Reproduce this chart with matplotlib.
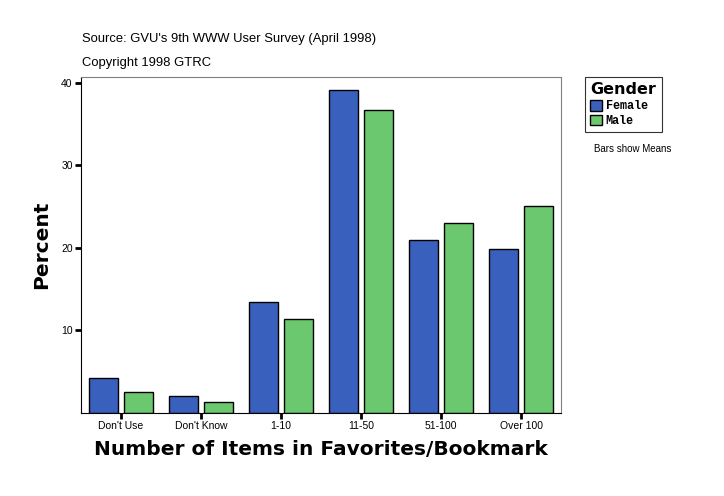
import matplotlib
matplotlib.use("Agg")
import matplotlib.pyplot as plt
import numpy as np
from matplotlib.patches import Patch

categories = ["Don't Use", "Don't Know", "1-10", "11-50", "51-100", "Over 100"]
female = [4.2, 2.0, 13.5, 39.1, 21.0, 19.9]
male = [2.5, 1.3, 11.4, 36.7, 23.0, 25.1]
series_names = ["Female", "Male"]
yticks = [10, 20, 30, 40]

blue = "#3a60be"
green = "#6cc86e"

plt.rcParams['font.family'] = ['Liberation Sans', 'DejaVu Sans']

fig = plt.figure(figsize=(7.24, 4.96), dpi=100)
ax = fig.add_axes([81/724, 1-413/496, 480/724, 336/496])

x = np.arange(len(categories))
w = 0.36
ax.bar(x - 0.215, female, width=w, color=blue, edgecolor="black", linewidth=1.0)
ax.bar(x + 0.215, male, width=w, color=green, edgecolor="black", linewidth=1.0)

ax.set_xlim(-0.5, len(categories) - 0.5)
ax.set_ylim(0, 40.7)
ax.set_yticks(yticks)
ax.set_yticklabels([str(t) for t in yticks], fontsize=7.5)
ax.set_xticks(x)
ax.set_xticklabels(categories, fontsize=7.5)
ax.tick_params(axis='both', direction='out', width=2, length=4, pad=2)

for s in ['top', 'right']:
    ax.spines[s].set_color('#808080')
for s in ['left', 'bottom']:
    ax.spines[s].set_color('black')

ax.set_xlabel("Number of Items in Favorites/Bookmark", fontsize=14.5, fontweight='heavy',
              family=['DejaVu Sans'], labelpad=6)
ax.set_ylabel("Percent", fontsize=14.5, fontweight='heavy', family=['DejaVu Sans'], labelpad=7)

fig.text(82/724, 1-39/496, "Source: GVU's 9th WWW User Survey (April 1998)", fontsize=9.4,
         va='center', ha='left')
fig.text(82/724, 1-63/496, "Copyright 1998 GTRC", fontsize=9.4, va='center', ha='left')

handles = [Patch(facecolor=blue, edgecolor='black'), Patch(facecolor=green, edgecolor='black')]
leg = fig.legend(handles, series_names, loc='upper left', bbox_to_anchor=(585/724, 1-77/496),
                 title="Gender", prop={'family': 'Liberation Mono', 'size': 8.5, 'weight': 'bold'},
                 frameon=True, fancybox=False, handlelength=1.0, handleheight=1.0,
                 handletextpad=0.3, borderpad=0.45, labelspacing=0.2, borderaxespad=0)
leg.get_title().set_fontweight('heavy')
leg.get_title().set_fontsize(11.5)
leg.get_title().set_family('DejaVu Sans')
leg._legend_box.align = "left"
leg._legend_box.sep = 2
leg.get_frame().set_edgecolor('black')
leg.get_frame().set_linewidth(0.8)

fig.text(633/724, 1-149/496, "Bars show Means", fontsize=7, ha='center', va='center')

fig.savefig("out.png", dpi=100)
